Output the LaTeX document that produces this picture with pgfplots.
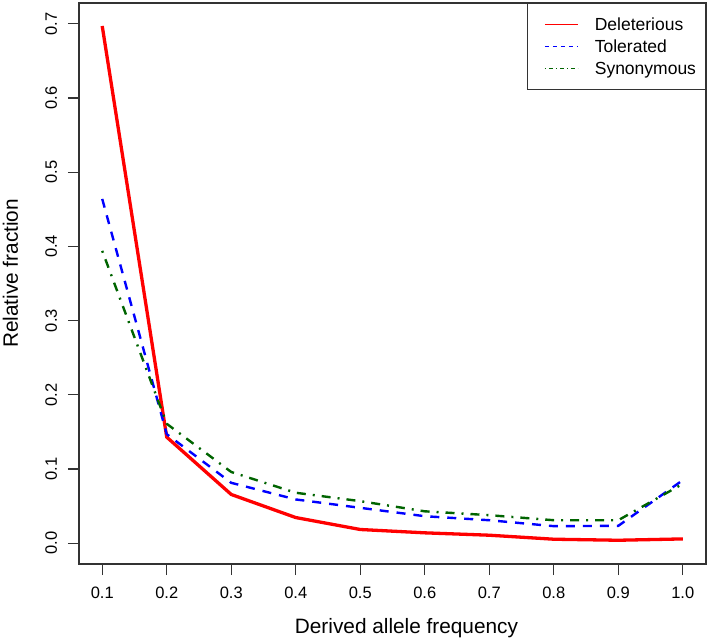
\documentclass[border=0pt]{standalone}
\usepackage{pgfplots}
\pgfplotsset{compat=1.18}
\usepackage{fontspec}
\setmainfont{Liberation Sans}
\definecolor{rblue}{RGB}{0,0,255}
\definecolor{rgreen}{RGB}{0,100,0}
\definecolor{rred}{RGB}{255,0,0}
\begin{document}
\begin{tikzpicture}
\begin{axis}[
  scale only axis, width=627pt, height=561pt,
  xmin=0.064, xmax=1.036, ymin=-0.028, ymax=0.728,
  xtick={0.1,0.2,0.3,0.4,0.5,0.6,0.7,0.8,0.9,1.0},
  xticklabels={0.1,0.2,0.3,0.4,0.5,0.6,0.7,0.8,0.9,1.0},
  ytick={0,0.1,0.2,0.3,0.4,0.5,0.6,0.7},
  yticklabels={0.0,0.1,0.2,0.3,0.4,0.5,0.6,0.7},
  xtick pos=bottom, ytick pos=left,
  tick align=outside, major tick length=11pt,
  tick style={line width=1.1pt, color=black!80},
  axis line style={line width=1.2pt, color=black!80},
  ticklabel style={font=\fontsize{16.5}{20}\selectfont, inner sep=0pt},
  xticklabel style={anchor=base},
  xticklabel shift=23pt,
  yticklabel style={rotate=90, anchor=base},
  yticklabel shift=11pt,
  xlabel={Derived allele frequency},
  ylabel={Relative fraction},
  xlabel style={font=\fontsize{20.8}{24}\selectfont, at={(axis description cs:0.5223,-0.123)}, anchor=base, inner sep=0pt},
  ylabel style={font=\fontsize{20.8}{24}\selectfont, at={(axis description cs:-0.0973,0.518)}, rotate=0, anchor=base, inner sep=0pt},
  legend style={at={(1,1)}, anchor=north east, draw=black!80, line width=1pt,
    font=\fontsize{17.5}{21}\selectfont, row sep=5pt, column sep=15pt, inner xsep=8pt, inner ysep=12.5pt,
    nodes={inner sep=1.5pt}},
  legend cell align=left,
]
\addplot[rred, line width=3.3pt, legend image code/.code={\path (0pt,0pt); \draw[draw=rred, line width=0.8pt, solid] (8pt,0pt) -- (41pt,0pt);}] coordinates {
(0.1,0.697) (0.2,0.143) (0.3,0.0657) (0.4,0.0346) (0.5,0.0185) (0.6,0.014) (0.7,0.0108) (0.8,0.0054) (0.9,0.004) (1.0,0.0058)};
\addlegendentry{Deleterious}
\addplot[rblue, line width=2.4pt, dash pattern=on 9pt off 8pt, legend image code/.code={\path (0pt,0pt); \draw[draw=rblue, line width=0.8pt, dash pattern=on 4pt off 4pt] (8pt,0pt) -- (41pt,0pt);}] coordinates {
(0.1,0.464) (0.2,0.147) (0.3,0.0814) (0.4,0.059) (0.5,0.0477) (0.6,0.0364) (0.7,0.031) (0.8,0.023) (0.9,0.0234) (1.0,0.085)};
\addlegendentry{Tolerated}
\addplot[rgreen, line width=2.4pt, dash pattern=on 2pt off 7pt on 9pt off 7pt, legend image code/.code={\path (0pt,0pt); \draw[draw=rgreen, line width=0.8pt, dash pattern=on 1pt off 3pt on 4pt off 3pt] (8pt,0pt) -- (41pt,0pt);}] coordinates {
(0.1,0.394) (0.2,0.161) (0.3,0.096) (0.4,0.068) (0.5,0.0567) (0.6,0.043) (0.7,0.0378) (0.8,0.031) (0.9,0.031) (1.0,0.08)};
\addlegendentry{Synonymous}
\end{axis}
\path (current axis.south west) ++(-79pt,-76pt) (current axis.north east) ++(3pt,3pt);
\end{tikzpicture}
\end{document}
